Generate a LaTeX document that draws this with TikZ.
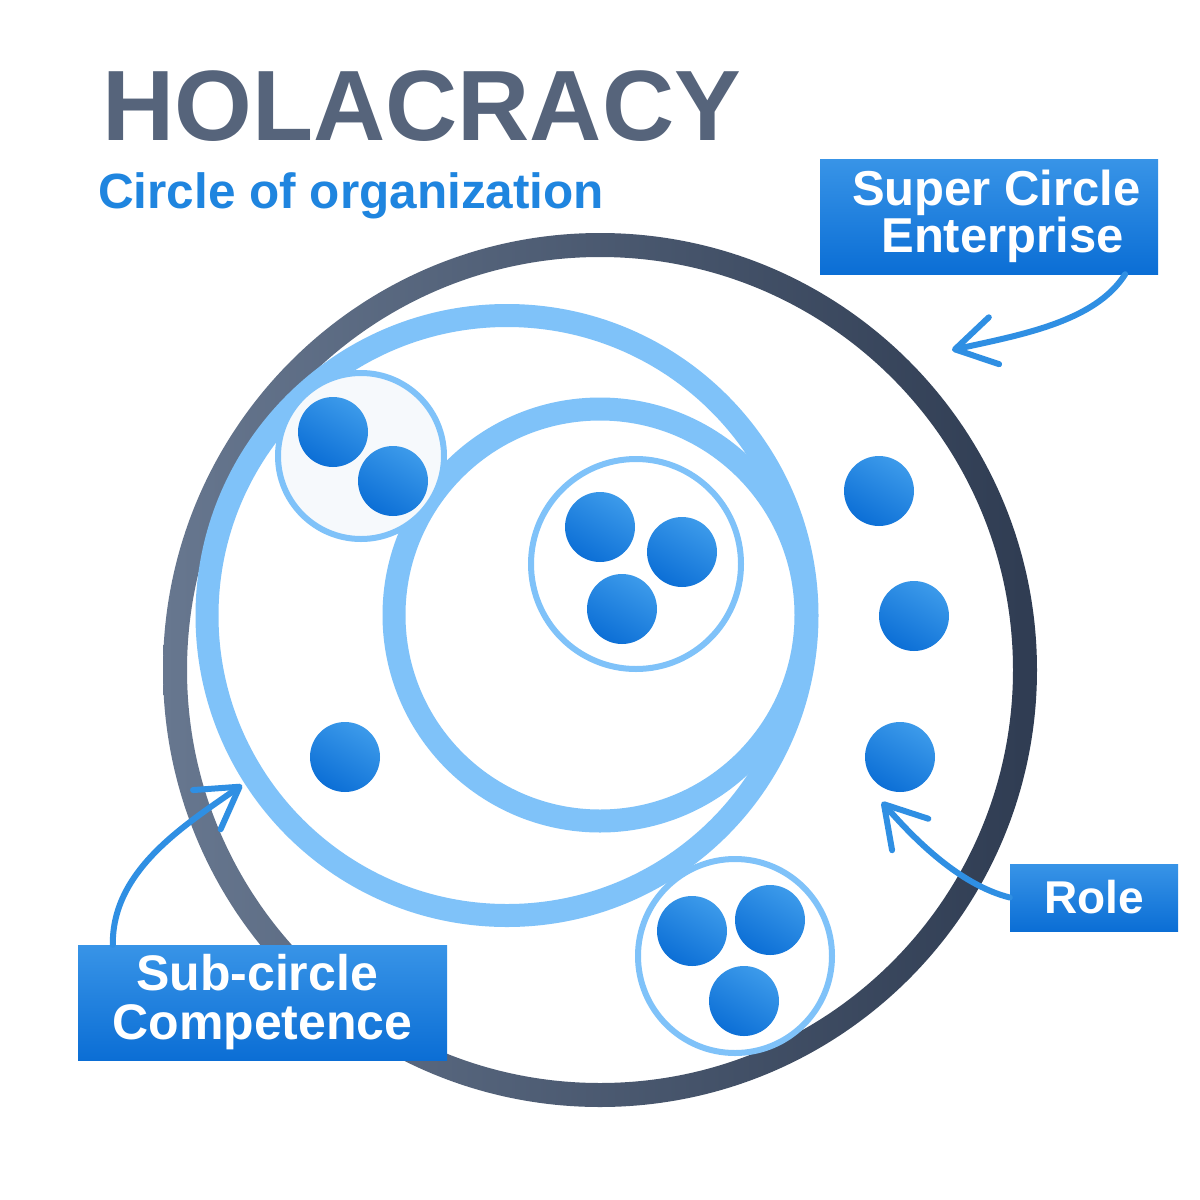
\documentclass[tikz,border=0pt]{standalone}
\usepackage{fontspec}
\setmainfont{Liberation Sans}
\usetikzlibrary{arrows.meta,calc}
\definecolor{titlegray}{HTML}{56647B}
\definecolor{subblue}{HTML}{1F85DF}
\definecolor{outerL}{HTML}{67778F}
\definecolor{outerR}{HTML}{2F3C52}
\definecolor{ringblue}{HTML}{7FC2F9}
\definecolor{groupfill}{HTML}{F6F9FC}
\definecolor{dotlight}{HTML}{3C9AEA}
\definecolor{dotdark}{HTML}{0C6FD6}
\definecolor{boxtop}{HTML}{3894E7}
\definecolor{boxbot}{HTML}{0B6ED5}
\definecolor{arrowblue}{HTML}{2F8FE3}
\begin{document}
\begin{tikzpicture}[x=1pt,y=-1pt,
  bigring/.style={circle, draw=ringblue, line width=23pt, inner sep=0pt},
  groupring/.style={circle, draw=ringblue, line width=6pt, fill=white, inner sep=0pt},
  dot/.style={circle, inner sep=0pt, minimum size=70pt, top color=dotlight, bottom color=dotdark, shading angle=-30},
  labelbox/.style={rectangle, inner sep=0pt, top color=boxtop, bottom color=boxbot, text=white, align=center},
  callout/.style={draw=arrowblue, line width=6pt, line cap=round, -{Straight Barb[length=40pt,width=48pt,round]}}
]
\useasboundingbox (0,0) rectangle (1200,1200);
\fill[white] (0,0) rectangle (1200,1200);

% outer super circle
\coordinate (enterprise) at (600,670);
\shade[left color=outerL, right color=outerR, even odd rule]
  (enterprise) circle[radius=437pt] (enterprise) circle[radius=413pt];

% sub-circles
\node[bigring, minimum size=600pt] (competence) at (507,615.5) {};
\node[bigring, minimum size=412pt] (inner) at (600,615) {};

% groups
\node[groupring, fill=groupfill, minimum size=166pt] (g1) at (361,456) {};
\node[groupring, minimum size=210pt] (g2) at (636,564) {};
\node[groupring, minimum size=194pt] (g3) at (735,956) {};

% roles in groups
\node[dot] (a1) at (333,432) {};
\node[dot] (a2) at (393,481) {};
\node[dot] (b1) at (600,527) {};
\node[dot] (b2) at (682,552) {};
\node[dot] (b3) at (622,609) {};
\node[dot] (c1) at (692,931) {};
\node[dot] (c2) at (770,920) {};
\node[dot] (c3) at (744,1001) {};

% single roles
\node[dot] (r1) at (879,491) {};
\node[dot] (r2) at (914,616) {};
\node[dot] (r3) at (900,757) {};
\node[dot] (r4) at (345,757) {};

% labels
\node[labelbox, minimum width=338pt, minimum height=115pt,
  font=\fontsize{49}{44}\selectfont\bfseries] (super) at (989,216.5)
  {\hspace*{15pt}Super Circle\\\hspace*{27pt}Enterprise};
\node[labelbox, minimum width=369pt, minimum height=115pt,
  font=\fontsize{50}{49}\selectfont\bfseries] (sub) at (262.5,1002.5)
  {Sub-circle\hspace*{11pt}\\Competence};
\node[labelbox, minimum width=168pt, minimum height=67pt,
  font=\fontsize{46}{46}\selectfont\bfseries] (role) at (1094,897.5) {Role};

% callout arrows
\coordinate (supTip) at (952,350);
\coordinate (subTip) at (242,785);
\coordinate (roleTip) at (882,802);
\draw[callout] ([xshift=-33pt]super.south east) .. controls (1095,322) and (1020,335) .. (supTip);
\draw[callout] ([xshift=35pt]sub.north west) .. controls (112,870) and (185,825) .. (subTip);
\draw[callout] (role.west) .. controls (960,885) and (915,840) .. (roleTip);

% titles
\node[anchor=base west, inner sep=0pt, text=titlegray,
  font=\fontsize{100}{100}\selectfont\bfseries] (title) at (102,140) {HOLACRACY};
\node[anchor=base west, inner sep=0pt, text=subblue,
  font=\fontsize{49.5}{49.5}\selectfont\bfseries] (subtitle) at (98,208) {Circle of organization};
\end{tikzpicture}
\end{document}
